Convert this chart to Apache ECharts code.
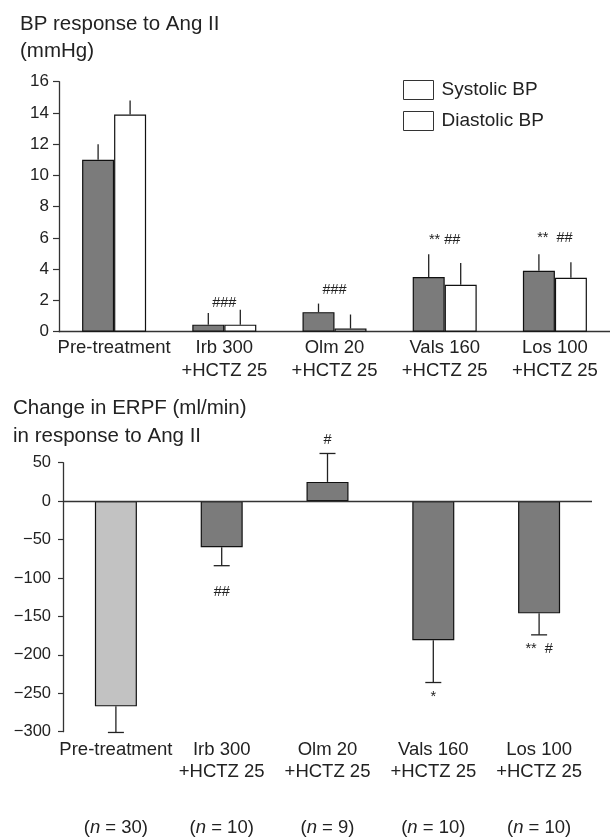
<!DOCTYPE html>
<html>
<head>
<meta charset="utf-8">
<style>
  html, body { margin: 0; padding: 0; background: #fff; }
  #chart { width: 610px; height: 838px; }
</style>
<script src="https://cdn.jsdelivr.net/npm/echarts@6/dist/echarts.min.js"></script>
</head>
<body>
<div id="chart"></div>
<script>
// ---- Data ----
const categories = ['Pre-treatment', 'Irb 300\n+HCTZ 25', 'Olm 20\n+HCTZ 25', 'Vals 160\n+HCTZ 25', 'Los 100\n+HCTZ 25'];
const systolic = [11.0, 0.45, 1.25, 3.5, 3.9];
const systolicErr = [12.0, 1.2, 1.8, 4.95, 4.95];
const diastolic = [13.9, 0.45, 0.2, 3.0, 3.45];
const diastolicErr = [14.8, 1.4, 1.1, 4.4, 4.45];
const bpMin = 0, bpMax = 16, bpStep = 2;

const erpf = [-267, -60, 25, -181, -146];
const erpfErr = [-301, -84, 62, -236, -174];
const erpfMin = -300, erpfMax = 50, erpfStep = 50;
const nCounts = ['30', '10', '9', '10', '10'];

const bpNotes = [[1, 1.86, '###'], [2, 2.7, '###'], [3, 5.87, '** ##'], [4, 5.98, '**  ##']];
const erpfNotes = [[1, -118, '##'], [2, 80, '#'], [3, -255, '*'], [4, -193, '**  #']];

// ---- Styles ----
const FONT = 'Liberation Sans';
const INK = '#222';
const DARK = '#7b7b7b';
const LIGHT = '#c2c2c2';
const BAR_TOP = 32;
const BAR_BOT = 42;
const LABEL_SIZE = 18.5;

const chart = echarts.init(document.getElementById('chart'), null, { renderer: 'canvas' });

function errRender(offset, cap) {
  return function (params, api) {
    const c = api.value(0);
    const p0 = api.coord([c, api.value(1)]);
    const p1 = api.coord([c, api.value(2)]);
    const x = p0[0] + offset;
    const children = [{
      type: 'line',
      shape: { x1: x, y1: p0[1], x2: x, y2: p1[1] },
      style: { stroke: INK, lineWidth: 1.3 }
    }];
    if (cap) {
      children.push({
        type: 'line',
        shape: { x1: x - cap / 2, y1: p1[1], x2: x + cap / 2, y2: p1[1] },
        style: { stroke: INK, lineWidth: 1.3 }
      });
    }
    return { type: 'group', children: children };
  };
}

function noteRender(params, api) {
  const p = api.coord([api.value(0), api.value(1)]);
  return {
    type: 'text',
    x: p[0], y: p[1],
    style: {
      text: api.value(2),
      fontFamily: FONT, fontSize: 14.5, fill: INK,
      align: 'center', verticalAlign: 'middle'
    }
  };
}

const option = {
  animation: false,
  backgroundColor: '#fff',
  textStyle: { fontFamily: FONT, color: INK },
  title: [
    {
      text: 'BP response to Ang II\n(mmHg)',
      left: 20, top: 11, padding: 0,
      textStyle: { fontFamily: FONT, fontSize: 20.5, fontWeight: 'normal', color: INK, lineHeight: 27 }
    },
    {
      text: 'Change in ERPF (ml/min)\nin response to Ang II',
      left: 13, top: 394, padding: 0,
      textStyle: { fontFamily: FONT, fontSize: 20.5, fontWeight: 'normal', color: INK, lineHeight: 28.5 }
    }
  ],
  legend: {
    orient: 'vertical',
    left: 398, top: 75,
    itemWidth: 30, itemHeight: 19, itemGap: 11,
    icon: 'rect',
    textStyle: { fontFamily: FONT, fontSize: 19, color: INK, padding: [0, 0, 0, 3] },
    data: [
      { name: 'Systolic BP', itemStyle: { color: '#fff', borderColor: '#333', borderWidth: 1 } },
      { name: 'Diastolic BP', itemStyle: { color: '#fff', borderColor: '#333', borderWidth: 1 } }
    ]
  },
  grid: [
    { left: 59, top: 81.7, width: 554, height: 250 },
    { left: 63, top: 462.7, width: 529, height: 269 }
  ],
  xAxis: [
    {
      type: 'category', gridIndex: 0, data: categories,
      axisLine: { show: true, lineStyle: { color: '#333', width: 1.3 } },
      axisTick: { show: false },
      axisLabel: { fontFamily: FONT, fontSize: LABEL_SIZE, color: INK, lineHeight: 23, margin: 5, interval: 0 }
    },
    {
      type: 'category', gridIndex: 1, data: categories,
      axisLine: { show: false, onZero: false },
      axisTick: { show: false },
      axisLabel: { fontFamily: FONT, fontSize: LABEL_SIZE, color: INK, lineHeight: 22, margin: 7, interval: 0 }
    },
    {
      type: 'category', gridIndex: 1, data: nCounts, position: 'bottom',
      axisLine: { show: false, onZero: false },
      axisTick: { show: false },
      axisLabel: {
        fontFamily: FONT, fontSize: LABEL_SIZE, color: INK, margin: 87, interval: 0,
        formatter: function (v) { return '({i|n} = ' + v + ')'; },
        rich: { i: { fontFamily: FONT, fontSize: LABEL_SIZE, fontStyle: 'italic', color: INK } }
      }
    }
  ],
  yAxis: [
    {
      type: 'value', gridIndex: 0, min: bpMin, max: bpMax, interval: bpStep,
      axisLine: { show: true, lineStyle: { color: '#333', width: 1.3 } },
      axisTick: { show: true, length: 6, lineStyle: { color: '#333', width: 1.2 } },
      axisLabel: { fontFamily: FONT, fontSize: 17, color: INK, margin: 10 },
      splitLine: { show: false }
    },
    {
      type: 'value', gridIndex: 1, min: erpfMin, max: erpfMax, interval: erpfStep,
      axisLine: { show: true, lineStyle: { color: '#333', width: 1.3 } },
      axisTick: { show: true, length: 5, lineStyle: { color: '#333', width: 1.2 } },
      axisLabel: {
        fontFamily: FONT, fontSize: 16.5, color: INK, margin: 12,
        formatter: function (v) { return v < 0 ? '\u2212' + Math.abs(v) : String(v); }
      },
      splitLine: { show: false }
    }
  ],
  series: [
    {
      name: 'Systolic BP', type: 'bar', xAxisIndex: 0, yAxisIndex: 0,
      data: systolic, barWidth: BAR_TOP, barGap: '0%',
      itemStyle: { color: DARK, borderColor: '#111', borderWidth: 1.2 }
    },
    {
      name: 'Diastolic BP', type: 'bar', xAxisIndex: 0, yAxisIndex: 0,
      data: diastolic, barWidth: BAR_TOP, barGap: '0%',
      itemStyle: { color: '#fff', borderColor: '#111', borderWidth: 1.2 }
    },
    {
      name: 'sysErr', type: 'custom', xAxisIndex: 0, yAxisIndex: 0,
      renderItem: errRender(-BAR_TOP / 2, 0),
      data: systolic.map(function (v, i) { return [i, v, systolicErr[i]]; }),
      z: 5
    },
    {
      name: 'diaErr', type: 'custom', xAxisIndex: 0, yAxisIndex: 0,
      renderItem: errRender(BAR_TOP / 2, 0),
      data: diastolic.map(function (v, i) { return [i, v, diastolicErr[i]]; }),
      z: 5
    },
    {
      name: 'bpNotes', type: 'custom', xAxisIndex: 0, yAxisIndex: 0,
      renderItem: noteRender, data: bpNotes, z: 6
    },
    {
      name: 'ERPF', type: 'bar', xAxisIndex: 1, yAxisIndex: 1,
      data: erpf.map(function (v, i) {
        return { value: v, itemStyle: { color: i === 0 ? LIGHT : DARK } };
      }),
      barWidth: BAR_BOT,
      itemStyle: { borderColor: '#111', borderWidth: 1.2 },
      markLine: {
        silent: true, symbol: 'none', animation: false,
        label: { show: false },
        lineStyle: { color: '#333', width: 1.3, type: 'solid' },
        data: [{ yAxis: 0 }]
      }
    },
    {
      name: 'erpfErr', type: 'custom', xAxisIndex: 1, yAxisIndex: 1,
      renderItem: errRender(0, 16),
      data: erpf.map(function (v, i) { return [i, v, erpfErr[i]]; }),
      z: 5
    },
    {
      name: 'erpfNotes', type: 'custom', xAxisIndex: 1, yAxisIndex: 1,
      renderItem: noteRender, data: erpfNotes, z: 6
    }
  ]
};

chart.setOption(option);
</script>
</body>
</html>
